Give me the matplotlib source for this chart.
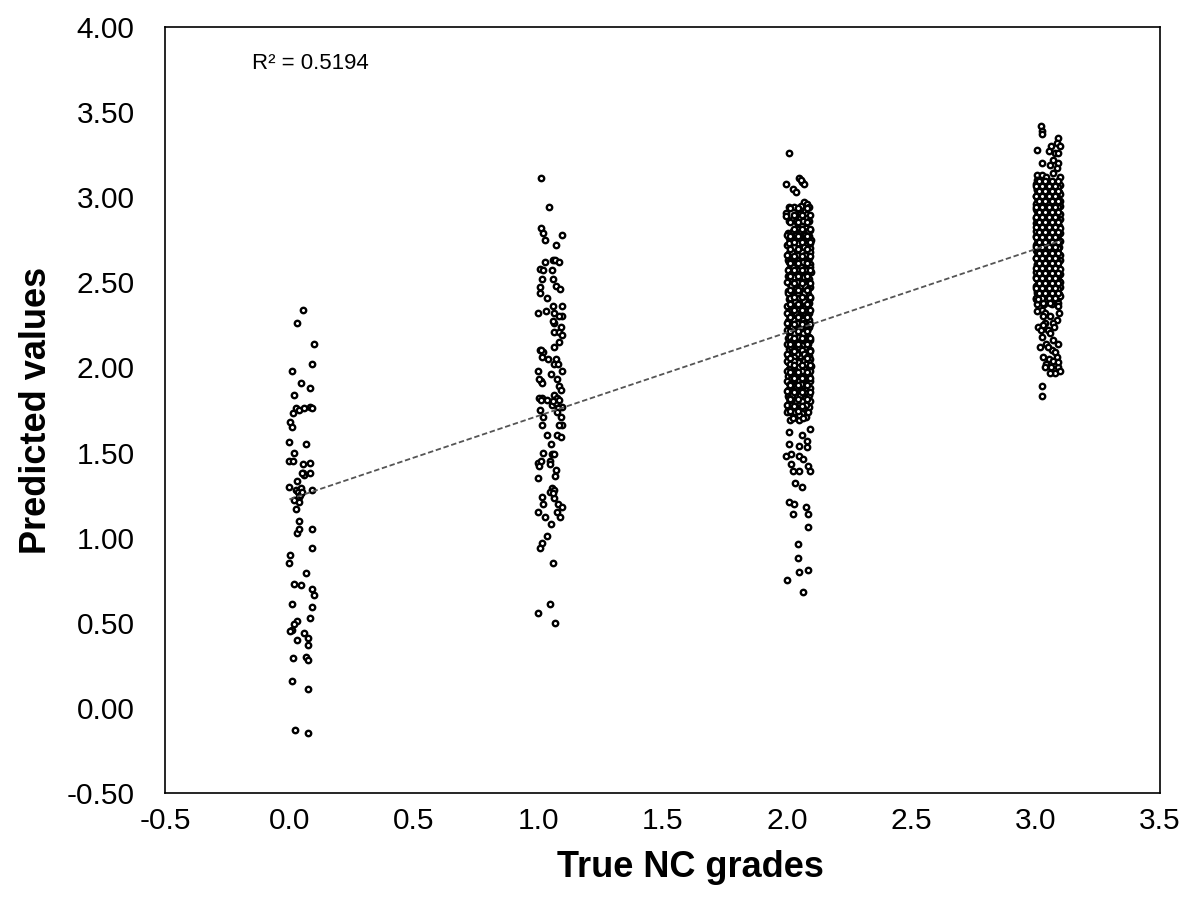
import numpy as np
import matplotlib
matplotlib.use("Agg")
import matplotlib.pyplot as plt
from matplotlib.ticker import FormatStrFormatter

plt.rcParams['font.family'] = ['Liberation Sans', 'DejaVu Sans']
plt.rcParams['axes.unicode_minus'] = False

# --- data: (true grade + jitter, predicted value) ---
grade0 = [
    (0.054, 2.34), (0.030, 2.26), (0.098, 2.14), (0.090, 2.02), (0.011, 1.98),
    (0.047, 1.91), (0.081, 1.88), (0.020, 1.84), (0.027, 1.76), (0.038, 1.75),
    (0.058, 1.76), (0.081, 1.77), (0.091, 1.76), (0.016, 1.73), (0.003, 1.68),
    (0.011, 1.65), (0.000, 1.56), (0.065, 1.55), (0.020, 1.50), (0.000, 1.45),
    (0.013, 1.45), (0.056, 1.43), (0.081, 1.44), (0.056, 1.38), (0.083, 1.38),
    (0.032, 1.33), (0.000, 1.30), (0.027, 1.28), (0.091, 1.28), (0.020, 1.22),
    (0.038, 1.24), (0.047, 1.26), (0.027, 1.17), (0.040, 1.10), (0.030, 1.03),
    (0.038, 1.05), (0.090, 1.05), (0.090, 0.94), (0.004, 0.90), (0.000, 0.85),
    (0.065, 0.79), (0.018, 0.73), (0.047, 0.72), (0.090, 0.70), (0.098, 0.66),
    (0.012, 0.61), (0.090, 0.59), (0.083, 0.53), (0.030, 0.51), (0.020, 0.49),
    (0.011, 0.46), (0.003, 0.45), (0.058, 0.44), (0.074, 0.41), (0.031, 0.40),
    (0.075, 0.37), (0.013, 0.29), (0.065, 0.30), (0.075, 0.28), (0.012, 0.16),
    (0.074, 0.11), (0.024, -0.13), (0.073, -0.15),
    (0.035, 1.27), (0.042, 1.25), (0.045, 1.29), (0.038, 1.21), (0.050, 1.27),
    (0.058, 1.37), (0.050, 1.38),
]

grade1 = [
    (1.011, 3.11), (1.044, 2.94), (1.011, 2.82), (1.019, 2.79), (1.097, 2.78),
    (1.026, 2.75), (1.070, 2.72), (1.058, 2.63), (1.066, 2.63), (1.082, 2.62),
    (1.028, 2.62), (1.008, 2.58), (1.019, 2.57), (1.055, 2.57), (1.015, 2.52),
    (1.058, 2.52), (1.008, 2.47), (1.070, 2.48), (1.086, 2.46), (1.008, 2.44),
    (1.035, 2.41), (1.097, 2.36), (1.058, 2.36), (1.097, 2.30), (1.082, 2.30),
    (1.000, 2.32), (1.062, 2.32), (1.062, 2.26), (1.062, 2.21), (1.082, 2.21),
    (1.097, 2.19), (1.091, 2.24), (1.082, 2.15), (1.065, 2.12), (1.008, 2.10),
    (1.019, 2.09), (1.015, 2.06), (1.070, 2.05), (1.065, 2.02), (1.097, 1.98),
    (1.000, 1.98), (1.051, 1.96), (1.011, 1.92), (1.015, 1.91), (1.075, 1.93),
    (1.082, 1.89), (1.091, 1.87), (1.062, 1.84), (1.015, 1.82), (1.075, 1.82),
    (1.035, 1.81), (1.055, 1.78), (1.008, 1.75), (1.097, 1.77), (1.091, 1.71),
    (1.021, 1.71), (1.097, 1.66), (1.082, 1.66), (1.015, 1.66), (1.035, 1.60),
    (1.075, 1.60), (1.091, 1.59), (1.019, 1.50), (1.055, 1.49), (1.065, 1.49),
    (1.000, 1.44), (1.011, 1.45), (1.046, 1.45), (1.046, 1.43), (1.000, 1.35),
    (1.069, 1.36), (1.056, 1.29), (1.048, 1.27), (1.015, 1.24), (1.062, 1.23),
    (1.021, 1.20), (1.078, 1.20), (1.095, 1.18), (1.075, 1.15), (1.000, 1.15),
    (1.026, 1.12), (1.086, 1.12), (1.052, 1.08), (1.035, 1.01), (1.015, 0.97),
    (1.008, 0.94), (1.059, 0.85), (1.046, 0.61), (1.000, 0.56), (1.069, 0.50),
    (1.004, 1.82), (1.010, 1.81), (1.065, 1.28), (1.060, 1.26), (1.003, 1.42),
    (1.070, 1.79), (1.080, 1.76), (1.075, 1.74), (1.060, 1.80), (1.085, 1.81),
    (1.005, 1.93), (1.012, 2.10), (1.058, 2.27), (1.080, 2.02), (1.070, 1.40),
    (1.050, 1.55), (1.030, 2.33), (1.040, 2.05),
]

grade2 = [
    (2.009, 3.26), (2.050, 3.11), (2.063, 3.09), (2.069, 3.08), (2.058, 3.10),
    (1.996, 3.08), (2.023, 3.05), (2.036, 3.03), (2.069, 2.97), (2.080, 2.96),
    (2.056, 2.95), (2.043, 2.93), (2.075, 2.92), (2.083, 2.90), (2.054, 2.90),
    (1.996, 2.91), (1.996, 2.89), (2.009, 2.86), (2.023, 2.87), (2.043, 2.84),
    (2.063, 2.83), (2.077, 2.82), (2.094, 2.81), (2.099, 2.75), (2.054, 2.88),
    (2.080, 2.88),
    (2.005, 2.79), (2.040, 2.79), (2.072, 2.79), (2.020, 2.77), (2.060, 2.77),
    (2.090, 2.77), (2.010, 2.76), (2.048, 2.76), (2.030, 2.74), (2.066, 2.74),
    (2.085, 2.74), (2.002, 2.72), (2.045, 2.72), (2.078, 2.72), (2.015, 2.70),
    (2.058, 2.70), (2.095, 2.70), (2.035, 2.69), (2.070, 2.69), (2.008, 2.67),
    (2.050, 2.67), (2.088, 2.67), (2.025, 2.65), (2.062, 2.65), (2.080, 2.65),
    (2.003, 2.63), (2.042, 2.63), (2.074, 2.63), (2.018, 2.61), (2.055, 2.61),
    (2.092, 2.61), (2.036, 2.60), (2.068, 2.60), (2.010, 2.58), (2.047, 2.58),
    (2.083, 2.58), (2.028, 2.56), (2.060, 2.56), (2.097, 2.56), (2.004, 2.54),
    (2.040, 2.54), (2.075, 2.54), (2.020, 2.52), (2.055, 2.52), (2.088, 2.52),
    (2.033, 2.51), (2.066, 2.51), (2.012, 2.49), (2.048, 2.49), (2.080, 2.49),
    (2.026, 2.47), (2.062, 2.47), (2.094, 2.47), (2.006, 2.45), (2.038, 2.45),
    (2.072, 2.45), (2.018, 2.43), (2.052, 2.43), (2.086, 2.43), (2.030, 2.42),
    (2.064, 2.42), (2.008, 2.40), (2.044, 2.40), (2.078, 2.40), (2.022, 2.38),
    (2.058, 2.38), (2.090, 2.38), (2.002, 2.36), (2.036, 2.36), (2.070, 2.36),
    (2.016, 2.34), (2.050, 2.34), (2.082, 2.34), (2.028, 2.33), (2.062, 2.33),
    (2.010, 2.31), (2.042, 2.31), (2.074, 2.31), (2.024, 2.29), (2.056, 2.29),
    (2.005, 2.27), (2.038, 2.27), (2.068, 2.27), (2.018, 2.25), (2.050, 2.25),
    (2.080, 2.25), (2.030, 2.23), (2.062, 2.23), (2.010, 2.21), (2.044, 2.21),
    (2.072, 2.21), (2.022, 2.19), (2.055, 2.19), (2.004, 2.17), (2.036, 2.17),
    (2.066, 2.17), (2.016, 2.15), (2.048, 2.15), (2.078, 2.15), (2.028, 2.13),
    (2.060, 2.13), (2.008, 2.11), (2.040, 2.11), (2.072, 2.11), (2.020, 2.09),
    (2.085, 2.09), (2.006, 2.07), (2.052, 2.07), (2.090, 2.07), (2.014, 2.05),
    (2.094, 2.05), (2.006, 2.03), (2.046, 2.03), (2.088, 2.03), (2.022, 2.01),
    (2.060, 2.01), (2.096, 2.01), (2.010, 1.99), (2.040, 1.99), (2.078, 1.99),
    (2.028, 1.97), (2.066, 1.97), (2.004, 1.95), (2.050, 1.95), (2.088, 1.95),
    (2.018, 1.93), (2.058, 1.93), (2.008, 1.91), (2.040, 1.91), (2.080, 1.91),
    (2.026, 1.89), (2.068, 1.89), (2.006, 1.87), (2.048, 1.87), (2.086, 1.87),
    (2.016, 1.85), (2.074, 1.85), (2.004, 1.83), (2.040, 1.83), (2.064, 1.83),
    (2.024, 1.81), (2.082, 1.81), (2.010, 1.79), (2.050, 1.79), (2.070, 1.79),
    (2.030, 1.77), (2.088, 1.77), (2.006, 1.75), (2.044, 1.75), (2.020, 1.73),
    (2.062, 1.73), (2.034, 1.71), (2.076, 1.71), (2.012, 1.69), (2.050, 1.69),
    # second pass over the dense part of the column
    (2.010, 2.94), (2.030, 2.94), (2.090, 2.94), (2.035, 2.86), (2.065, 2.86),
    (2.090, 2.86), (2.025, 2.80), (2.055, 2.80), (2.085, 2.80), (2.000, 2.78),
    (2.035, 2.78), (2.075, 2.78), (2.018, 2.75), (2.052, 2.75), (2.008, 2.73),
    (2.045, 2.73), (2.095, 2.73), (2.028, 2.71), (2.070, 2.71), (2.020, 2.68),
    (2.060, 2.68), (2.094, 2.68), (2.002, 2.66), (2.040, 2.66), (2.072, 2.66),
    (2.030, 2.64), (2.090, 2.64), (2.010, 2.62), (2.065, 2.62), (2.082, 2.62),
    (2.025, 2.59), (2.058, 2.59), (2.095, 2.59), (2.005, 2.57), (2.040, 2.57),
    (2.075, 2.57), (2.018, 2.55), (2.050, 2.55), (2.085, 2.55), (2.030, 2.53),
    (2.068, 2.53), (2.002, 2.50), (2.040, 2.50), (2.090, 2.50), (2.015, 2.48),
    (2.055, 2.48), (2.072, 2.48), (2.035, 2.46), (2.085, 2.46), (2.004, 2.44),
    (2.045, 2.44), (2.068, 2.44), (2.012, 2.41), (2.050, 2.41), (2.094, 2.41),
    (2.034, 2.39), (2.070, 2.39), (2.012, 2.37), (2.048, 2.37), (2.084, 2.37),
    (2.026, 2.35), (2.064, 2.35), (2.000, 2.32), (2.036, 2.32), (2.090, 2.32),
    (2.016, 2.30), (2.050, 2.30), (2.080, 2.30), (2.030, 2.28), (2.066, 2.28),
    (2.090, 2.28), (2.000, 2.26), (2.042, 2.26), (2.070, 2.26), (2.020, 2.24),
    (2.055, 2.24), (2.090, 2.24), (2.002, 2.22), (2.040, 2.22), (2.080, 2.22),
    (2.030, 2.20), (2.064, 2.20), (2.012, 2.18), (2.048, 2.18), (2.088, 2.18),
    (2.026, 2.16), (2.060, 2.16), (2.094, 2.16), (2.002, 2.14), (2.040, 2.14),
    (2.085, 2.14), (2.018, 2.12), (2.050, 2.12), (2.030, 2.10), (2.060, 2.10),
    (2.092, 2.10), (2.000, 2.08), (2.040, 2.08), (2.070, 2.08), (2.028, 2.06),
    (2.080, 2.06), (2.000, 2.04), (2.030, 2.04), (2.068, 2.04), (2.014, 2.02),
    (2.076, 2.02), (2.030, 2.00), (2.050, 2.00), (2.090, 2.00), (2.000, 1.98),
    (2.060, 1.98), (2.094, 1.98), (2.016, 1.96), (2.040, 1.96), (2.080, 1.96),
    (2.030, 1.94), (2.070, 1.94), (2.000, 1.92), (2.048, 1.92), (2.092, 1.92),
    (2.014, 1.90), (2.056, 1.90), (2.036, 1.88), (2.080, 1.88), (2.094, 1.88),
    (2.000, 1.86), (2.030, 1.86), (2.062, 1.86), (2.022, 1.84), (2.052, 1.84),
    (2.090, 1.84), (2.010, 1.82), (2.072, 1.82), (2.038, 1.80), (2.060, 1.80),
    (2.094, 1.80), (2.000, 1.78), (2.020, 1.78), (2.078, 1.78), (2.052, 1.76),
    (2.066, 1.76), (2.000, 1.74), (2.034, 1.74), (2.086, 1.74), (2.048, 1.72),
    (2.024, 1.70), (2.066, 1.70),
    # third pass, the blackest stretch of the column
    (2.012, 2.935), (2.046, 2.935), (2.080, 2.935), (2.028, 2.895), (2.062, 2.895),
    (2.094, 2.895), (2.012, 2.855), (2.046, 2.855), (2.080, 2.855), (2.028, 2.815),
    (2.062, 2.815), (2.094, 2.815), (2.012, 2.775), (2.046, 2.775), (2.080, 2.775),
    (2.028, 2.735), (2.062, 2.735), (2.094, 2.735), (2.012, 2.695), (2.046, 2.695),
    (2.080, 2.695), (2.028, 2.655), (2.062, 2.655), (2.094, 2.655), (2.012, 2.615),
    (2.046, 2.615), (2.080, 2.615), (2.028, 2.575), (2.062, 2.575), (2.094, 2.575),
    (2.012, 2.535), (2.046, 2.535), (2.080, 2.535), (2.028, 2.495), (2.062, 2.495),
    (2.094, 2.495), (2.012, 2.455), (2.046, 2.455), (2.080, 2.455), (2.028, 2.415),
    (2.062, 2.415), (2.094, 2.415), (2.012, 2.375), (2.046, 2.375), (2.080, 2.375),
    (2.028, 2.335), (2.062, 2.335), (2.094, 2.335), (2.012, 2.295), (2.046, 2.295),
    (2.080, 2.295), (2.028, 2.255), (2.062, 2.255), (2.094, 2.255), (2.012, 2.215),
    (2.046, 2.215), (2.080, 2.215), (2.028, 2.175), (2.062, 2.175), (2.094, 2.175),
    (2.012, 2.135), (2.046, 2.135), (2.080, 2.135), (2.028, 2.095), (2.094, 2.095),
    (2.012, 2.055), (2.080, 2.055), (2.028, 2.015), (2.062, 2.015), (2.094, 2.015),
    (2.012, 1.975), (2.046, 1.975), (2.080, 1.975), (2.028, 1.935), (2.062, 1.935),
    (2.094, 1.935), (2.012, 1.895), (2.046, 1.895), (2.080, 1.895), (2.028, 1.855),
    (2.062, 1.855), (2.094, 1.855), (2.012, 1.815), (2.046, 1.815), (2.080, 1.815),
    (2.028, 1.775), (2.062, 1.775), (2.012, 1.745), (2.046, 1.745),
    # sparse lower tail
    (2.094, 1.64), (2.009, 1.62), (2.060, 1.60), (2.083, 1.57), (2.009, 1.55),
    (2.050, 1.54), (2.083, 1.53), (1.996, 1.48), (2.016, 1.49), (2.050, 1.48),
    (2.067, 1.46), (2.016, 1.43), (2.087, 1.42), (2.023, 1.39), (2.050, 1.39),
    (2.094, 1.39), (2.033, 1.32), (2.060, 1.30), (2.009, 1.21), (2.030, 1.20),
    (2.025, 1.14), (2.077, 1.18), (2.086, 1.14), (2.086, 1.06), (2.043, 0.96),
    (2.043, 0.88), (2.050, 0.80), (2.086, 0.81), (2.000, 0.75), (2.067, 0.68),
]

grade3 = [
    (3.021, 3.42), (3.024, 3.39), (3.024, 3.37), (3.091, 3.35), (3.085, 3.32),
    (3.062, 3.30), (3.098, 3.30), (3.004, 3.28), (3.054, 3.27), (3.078, 3.26),
    (3.089, 3.26), (3.024, 3.20), (3.071, 3.22), (3.058, 3.19), (3.091, 3.20),
    (3.085, 3.17), (3.004, 3.13), (3.024, 3.13), (3.004, 3.10), (3.044, 3.12),
    (3.071, 3.14), (3.098, 3.12),
    (3.008, 3.09), (3.035, 3.09), (3.062, 3.09), (3.090, 3.09),
    (3.020, 3.07), (3.048, 3.07), (3.075, 3.07), (3.098, 3.07),
    (3.004, 3.05), (3.030, 3.05), (3.058, 3.05), (3.085, 3.05),
    (3.015, 3.03), (3.042, 3.03), (3.070, 3.03), (3.095, 3.03),
    (3.002, 3.01), (3.028, 3.01), (3.055, 3.01), (3.082, 3.01),
    (3.012, 2.99), (3.040, 2.99), (3.066, 2.99), (3.092, 2.99),
    (3.006, 2.97), (3.033, 2.97), (3.060, 2.97), (3.087, 2.97),
    (3.018, 2.95), (3.045, 2.95), (3.072, 2.95), (3.099, 2.95),
    (3.003, 2.93), (3.026, 2.93), (3.052, 2.93), (3.080, 2.93),
    (3.014, 2.91), (3.038, 2.91), (3.064, 2.91), (3.091, 2.91),
    (3.007, 2.89), (3.032, 2.89), (3.058, 2.89), (3.084, 2.89),
    (3.020, 2.87), (3.046, 2.87), (3.073, 2.87), (3.097, 2.87),
    (3.002, 2.85), (3.029, 2.85), (3.054, 2.85), (3.081, 2.85),
    (3.013, 2.83), (3.040, 2.83), (3.067, 2.83), (3.093, 2.83),
    (3.005, 2.81), (3.034, 2.81), (3.060, 2.81), (3.086, 2.81),
    (3.019, 2.79), (3.044, 2.79), (3.071, 2.79), (3.098, 2.79),
    (3.003, 2.77), (3.027, 2.77), (3.053, 2.77), (3.079, 2.77),
    (3.011, 2.75), (3.038, 2.75), (3.065, 2.75), (3.090, 2.75),
    (3.006, 2.73), (3.031, 2.73), (3.057, 2.73), (3.085, 2.73),
    (3.017, 2.71), (3.043, 2.71), (3.070, 2.71), (3.096, 2.71),
    (3.002, 2.69), (3.028, 2.69), (3.055, 2.69), (3.082, 2.69),
    (3.014, 2.67), (3.041, 2.67), (3.066, 2.67), (3.092, 2.67),
    (3.007, 2.65), (3.034, 2.65), (3.060, 2.65), (3.087, 2.65),
    (3.020, 2.63), (3.046, 2.63), (3.072, 2.63), (3.099, 2.63),
    (3.004, 2.61), (3.030, 2.61), (3.056, 2.61), (3.081, 2.61),
    (3.012, 2.59), (3.039, 2.59), (3.064, 2.59), (3.090, 2.59),
    (3.006, 2.57), (3.032, 2.57), (3.059, 2.57), (3.086, 2.57),
    (3.018, 2.55), (3.045, 2.55), (3.071, 2.55), (3.097, 2.55),
    (3.003, 2.53), (3.027, 2.53), (3.053, 2.53), (3.080, 2.53),
    (3.013, 2.51), (3.040, 2.51), (3.068, 2.51), (3.093, 2.51),
    (3.008, 2.49), (3.035, 2.49), (3.061, 2.49), (3.088, 2.49),
    (3.021, 2.47), (3.047, 2.47), (3.074, 2.47), (3.099, 2.47),
    (3.004, 2.45), (3.029, 2.45), (3.056, 2.45), (3.083, 2.45),
    (3.015, 2.43), (3.042, 2.43), (3.066, 2.43), (3.094, 2.43),
    (3.006, 2.41), (3.033, 2.41), (3.062, 2.41), (3.089, 2.41),
    (3.019, 2.39), (3.048, 2.39), (3.077, 2.39),
    (3.004, 2.37), (3.036, 2.37), (3.068, 2.37),
    # second pass over the solid block
    (3.000, 3.08), (3.024, 3.08), (3.050, 3.08), (3.078, 3.08),
    (3.012, 3.06), (3.040, 3.06), (3.066, 3.06), (3.092, 3.06),
    (3.004, 3.04), (3.026, 3.04), (3.050, 3.04), (3.080, 3.04),
    (3.018, 3.02), (3.046, 3.02), (3.072, 3.02), (3.100, 3.02),
    (3.006, 3.00), (3.034, 3.00), (3.060, 3.00), (3.088, 3.00),
    (3.020, 2.98), (3.046, 2.98), (3.074, 2.98), (3.098, 2.98),
    (3.000, 2.96), (3.026, 2.96), (3.052, 2.96), (3.080, 2.96),
    (3.010, 2.94), (3.038, 2.94), (3.064, 2.94), (3.092, 2.94),
    (3.004, 2.92), (3.030, 2.92), (3.058, 2.92), (3.086, 2.92),
    (3.020, 2.90), (3.046, 2.90), (3.072, 2.90), (3.100, 2.90),
    (3.000, 2.88), (3.026, 2.88), (3.050, 2.88), (3.078, 2.88),
    (3.012, 2.86), (3.040, 2.86), (3.066, 2.86), (3.092, 2.86),
    (3.006, 2.84), (3.034, 2.84), (3.060, 2.84), (3.088, 2.84),
    (3.020, 2.82), (3.048, 2.82), (3.074, 2.82), (3.100, 2.82),
    (3.000, 2.80), (3.026, 2.80), (3.052, 2.80), (3.080, 2.80),
    (3.012, 2.78), (3.036, 2.78), (3.062, 2.78), (3.090, 2.78),
    (3.004, 2.76), (3.030, 2.76), (3.058, 2.76), (3.084, 2.76),
    (3.020, 2.74), (3.046, 2.74), (3.072, 2.74), (3.100, 2.74),
    (3.000, 2.72), (3.026, 2.72), (3.050, 2.72), (3.078, 2.72),
    (3.010, 2.70), (3.036, 2.70), (3.064, 2.70), (3.090, 2.70),
    (3.004, 2.68), (3.032, 2.68), (3.060, 2.68), (3.088, 2.68),
    (3.022, 2.66), (3.048, 2.66), (3.074, 2.66), (3.100, 2.66),
    (3.000, 2.64), (3.026, 2.64), (3.052, 2.64), (3.080, 2.64),
    (3.012, 2.62), (3.040, 2.62), (3.066, 2.62), (3.092, 2.62),
    (3.004, 2.60), (3.030, 2.60), (3.058, 2.60), (3.084, 2.60),
    (3.022, 2.58), (3.048, 2.58), (3.074, 2.58), (3.100, 2.58),
    (3.000, 2.56), (3.026, 2.56), (3.052, 2.56), (3.078, 2.56),
    (3.010, 2.54), (3.036, 2.54), (3.062, 2.54), (3.090, 2.54),
    (3.004, 2.52), (3.032, 2.52), (3.058, 2.52), (3.086, 2.52),
    (3.020, 2.50), (3.046, 2.50), (3.074, 2.50), (3.100, 2.50),
    (3.000, 2.48), (3.026, 2.48), (3.050, 2.48), (3.080, 2.48),
    (3.012, 2.46), (3.040, 2.46), (3.066, 2.46), (3.092, 2.46),
    (3.004, 2.44), (3.030, 2.44), (3.058, 2.44), (3.084, 2.44),
    (3.022, 2.42), (3.048, 2.42), (3.076, 2.42), (3.100, 2.42),
    (3.000, 2.40), (3.040, 2.40), (3.070, 2.40),
    (3.030, 2.38), (3.090, 2.38),
    # third pass, filling the gaps of the solid block
    (3.013, 3.095), (3.039, 3.095), (3.065, 3.095), (3.091, 3.095),
    (3.001, 3.065), (3.027, 3.065), (3.053, 3.065), (3.079, 3.065),
    (3.013, 3.035), (3.039, 3.035), (3.065, 3.035), (3.091, 3.035),
    (3.001, 3.005), (3.027, 3.005), (3.053, 3.005), (3.079, 3.005),
    (3.013, 2.975), (3.039, 2.975), (3.065, 2.975), (3.091, 2.975),
    (3.001, 2.945), (3.027, 2.945), (3.053, 2.945), (3.079, 2.945),
    (3.013, 2.915), (3.039, 2.915), (3.065, 2.915), (3.091, 2.915),
    (3.001, 2.885), (3.027, 2.885), (3.053, 2.885), (3.079, 2.885),
    (3.013, 2.855), (3.039, 2.855), (3.065, 2.855), (3.091, 2.855),
    (3.001, 2.825), (3.027, 2.825), (3.053, 2.825), (3.079, 2.825),
    (3.013, 2.795), (3.039, 2.795), (3.065, 2.795), (3.091, 2.795),
    (3.001, 2.765), (3.027, 2.765), (3.053, 2.765), (3.079, 2.765),
    (3.013, 2.735), (3.039, 2.735), (3.065, 2.735), (3.091, 2.735),
    (3.001, 2.705), (3.027, 2.705), (3.053, 2.705), (3.079, 2.705),
    (3.013, 2.675), (3.039, 2.675), (3.065, 2.675), (3.091, 2.675),
    (3.001, 2.645), (3.027, 2.645), (3.053, 2.645), (3.079, 2.645),
    (3.013, 2.615), (3.039, 2.615), (3.065, 2.615), (3.091, 2.615),
    (3.001, 2.585), (3.027, 2.585), (3.053, 2.585), (3.079, 2.585),
    (3.013, 2.555), (3.039, 2.555), (3.065, 2.555), (3.091, 2.555),
    (3.001, 2.525), (3.027, 2.525), (3.053, 2.525), (3.079, 2.525),
    (3.013, 2.495), (3.039, 2.495), (3.065, 2.495), (3.091, 2.495),
    (3.001, 2.465), (3.027, 2.465), (3.053, 2.465), (3.079, 2.465),
    (3.013, 2.435), (3.039, 2.435), (3.065, 2.435), (3.091, 2.435),
    (3.001, 2.405), (3.027, 2.405), (3.053, 2.405), (3.079, 2.405),
    # lower clumps and stragglers
    (3.024, 2.34), (3.091, 2.36), (3.058, 2.30), (3.040, 2.26), (3.085, 2.28),
    (3.050, 2.22), (3.058, 2.20), (3.024, 2.18), (3.044, 2.14), (3.071, 2.16),
    (3.017, 2.12), (3.091, 2.14), (3.032, 2.06), (3.054, 2.05), (3.085, 2.06),
    (3.044, 2.02), (3.064, 2.00), (3.091, 2.00), (3.078, 1.97), (3.058, 1.97),
    (3.024, 1.89), (3.026, 1.83),
    (3.010, 2.24), (3.020, 2.22), (3.030, 2.25), (3.070, 2.26), (3.075, 2.24),
    (3.065, 2.10), (3.080, 2.09), (3.040, 2.32), (3.005, 2.33), (3.060, 2.38),
    (3.010, 2.40), (3.030, 2.30), (3.095, 2.32), (3.050, 2.12), (3.070, 2.04),
    (3.090, 2.03), (3.040, 2.00), (3.100, 1.98),
]

# Excel linear trendline
trend_intercept = 1.225
trend_slope = 0.49
r2_label = "R² = 0.5194"
x_ticks = [-0.5, 0.0, 0.5, 1.0, 1.5, 2.0, 2.5, 3.0, 3.5]
y_ticks = [-0.5, 0.0, 0.5, 1.0, 1.5, 2.0, 2.5, 3.0, 3.5, 4.0]

pts = np.array(grade0 + grade1 + grade2 + grade3)
x, y = pts[:, 0], pts[:, 1]

fig = plt.figure(figsize=(11.9, 9.22), dpi=100)
ax = fig.add_axes([0.1387, 0.140, 0.836, 0.8307])

ax.plot(x, y, 'o', ms=3.9, mfc='white', mec='black', mew=1.7, zorder=2)

xl = np.array([x.min(), x.max()])
ax.plot(xl, trend_intercept + trend_slope * xl, color='#555555', lw=1.3,
        linestyle=(0, (3, 1.5)), zorder=3)

ax.text(0.0874, 0.953, r2_label, transform=ax.transAxes, fontsize=16,
        ha='left', va='center')

ax.set_xlim(-0.5, 3.5)
ax.set_ylim(-0.5, 4.0)
ax.set_xticks(x_ticks)
ax.set_yticks(y_ticks)
ax.xaxis.set_major_formatter(FormatStrFormatter('%.1f'))
ax.yaxis.set_major_formatter(FormatStrFormatter('%.2f'))
ax.tick_params(length=0, labelsize=21.5, colors='black')
ax.tick_params(axis='x', pad=10)
ax.tick_params(axis='y', pad=22)
for s in ax.spines.values():
    s.set_linewidth(1.2)
    s.set_color('black')

ax.set_xlabel("True NC grades", fontsize=26, fontweight='bold')
ax.set_ylabel("Predicted values", fontsize=26, fontweight='bold')
ax.xaxis.set_label_coords(0.528, -0.075)
ax.yaxis.set_label_coords(-0.112, 0.5)

fig.savefig("out.png", dpi=100)
